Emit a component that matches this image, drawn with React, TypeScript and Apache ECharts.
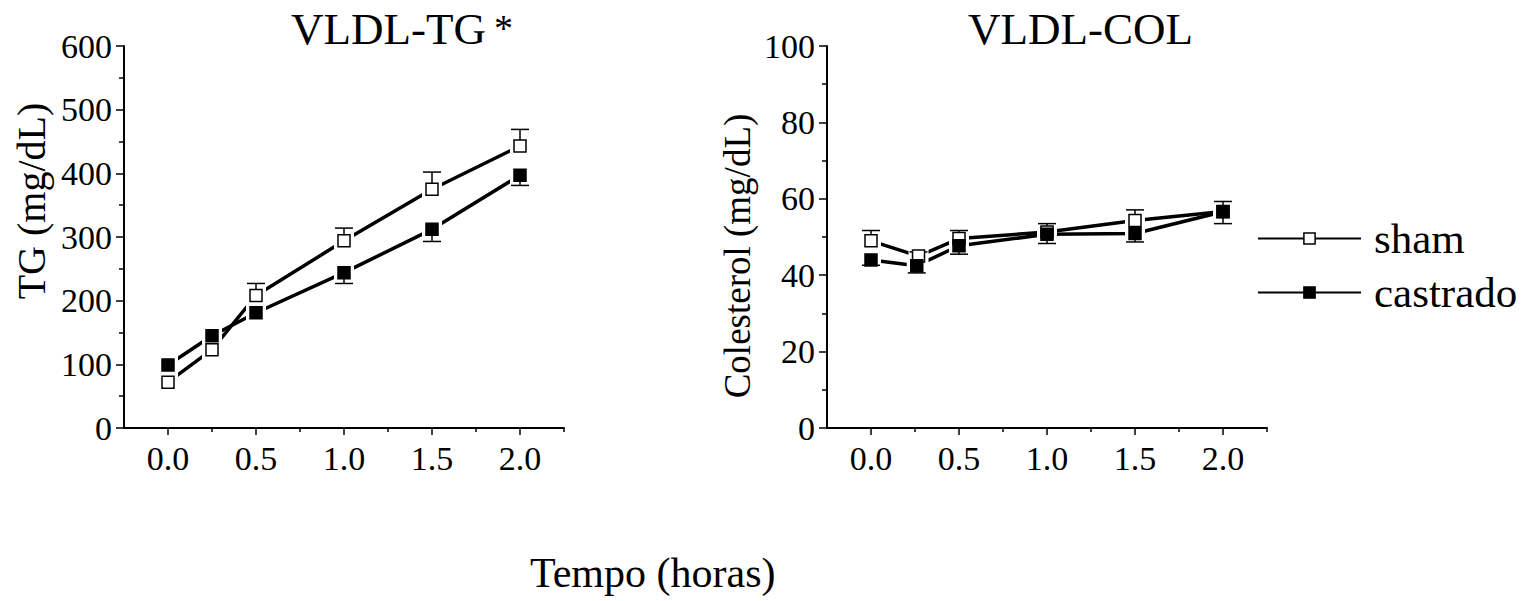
import React, { useEffect, useRef } from "react";
import * as echarts from "echarts";

// ---- data ----
const tgHours = [0, 0.25, 0.5, 1, 1.5, 2];
const tgSham = [72, 123, 208, 294, 375, 443];
const tgCastrado = [99, 145, 181, 244, 312, 397];
const tgShamErrHigh = [null, null, 227, 314, 402, 469];
const tgCastradoErrLow = [null, null, null, 227, 293, 381];

const colHoursSham = [0, 0.27, 0.5, 1, 1.5, 2];
const colHoursCastrado = [0, 0.26, 0.5, 1, 1.5, 2];
const colSham = [49, 45, 49.6, 51.3, 54.3, 56.7];
const colCastrado = [44, 42.5, 47.7, 50.7, 50.9, 56.6];
const colShamErrHigh = [51.7, 46.1, 51.7, 53.5, 57.1, 59.3];
const colCastradoErrLow = [42.6, 40.6, 45.5, 48.3, 48.7, 53.5];

const xMajorTicks = [0, 0.5, 1, 1.5, 2];
const xMinorTicks = [0.25, 0.75, 1.25, 1.75, 2.25];

const FONT = "Liberation Serif";

function pairs(xs: number[], ys: (number | null)[]) {
  return xs.map((x, i) => [x, ys[i]]);
}
function errData(xs: number[], ys: number[], es: (number | null)[]) {
  const out: number[][] = [];
  xs.forEach((x, i) => {
    if (es[i] != null) out.push([x, ys[i], es[i] as number]);
  });
  return out;
}

const errRender = (params: any, api: any) => {
  const x = api.value(0);
  const y = api.value(1);
  const e = api.value(2);
  const p0 = api.coord([x, y]);
  const p1 = api.coord([x, e]);
  const h = 9;
  return {
    type: "group",
    children: [
      { type: "line", shape: { x1: p0[0], y1: p0[1], x2: p1[0], y2: p1[1] }, style: { stroke: "#000", lineWidth: 1.5 } },
      { type: "line", shape: { x1: p1[0] - h, y1: p1[1], x2: p1[0] + h, y2: p1[1] }, style: { stroke: "#000", lineWidth: 1.5 } },
    ],
  };
};

function xAxes(gridIndex: number) {
  return [
    {
      type: "value",
      gridIndex,
      min: -0.25,
      max: 2.25,
      interval: 0.25,
      splitLine: { show: false },
      axisLine: { show: true, onZero: false, lineStyle: { color: "#000", width: 2 } },
      axisTick: { show: true, customValues: xMajorTicks, length: 7, lineStyle: { color: "#000", width: 1.5 } },
      axisLabel: {
        customValues: xMajorTicks,
        formatter: (v: number) => v.toFixed(1),
        fontFamily: FONT,
        fontSize: 34,
        color: "#000",
        margin: 13,
      },
    },
    {
      type: "value",
      gridIndex,
      position: "bottom",
      min: -0.25,
      max: 2.25,
      interval: 0.25,
      splitLine: { show: false },
      axisLine: { show: false, onZero: false },
      axisTick: { show: true, customValues: xMinorTicks, length: 4, lineStyle: { color: "#000", width: 1.5 } },
      axisLabel: { show: false },
    },
  ];
}

function yAxis(gridIndex: number, max: number, interval: number) {
  return {
    type: "value",
    gridIndex,
    min: 0,
    max,
    interval,
    splitLine: { show: false },
    axisLine: { show: true, onZero: false, lineStyle: { color: "#000", width: 2 } },
    axisTick: { show: true, length: 8, lineStyle: { color: "#000", width: 1.5 } },
    minorTick: { show: true, splitNumber: 2, length: 5, lineStyle: { color: "#000", width: 1.5 } },
    axisLabel: { fontFamily: FONT, fontSize: 34, color: "#000", margin: 12 },
  };
}

function lineSeries(name: string, xi: number, yi: number, data: any[], fill: string) {
  return {
    name,
    type: "line",
    xAxisIndex: xi,
    yAxisIndex: yi,
    data,
    z: 2,
    symbol: "rect",
    symbolSize: 12,
    showSymbol: false,
    lineStyle: { color: "#000", width: 3.5 },
    itemStyle: { color: fill, borderColor: "#000", borderWidth: 1.5, opacity: 1 },
  };
}
function haloSeries(xi: number, yi: number, data: any[]) {
  return {
    type: "scatter",
    xAxisIndex: xi,
    yAxisIndex: yi,
    data,
    z: 3,
    silent: true,
    symbol: "rect",
    symbolSize: 12,
    itemStyle: { color: "#fff", borderColor: "#fff", borderWidth: 8, opacity: 1 },
  };
}
function markerSeries(xi: number, yi: number, data: any[], fill: string) {
  return {
    type: "scatter",
    xAxisIndex: xi,
    yAxisIndex: yi,
    data,
    z: 5,
    symbol: "rect",
    symbolSize: 12,
    itemStyle: { color: fill, borderColor: "#000", borderWidth: 1.5, opacity: 1 },
  };
}
function errSeries(xi: number, yi: number, data: any[]) {
  return { type: "custom", xAxisIndex: xi, yAxisIndex: yi, renderItem: errRender, data, z: 4, silent: true };
}

export default function App() {
  const ref = useRef<HTMLDivElement>(null);
  useEffect(() => {
    if (!ref.current) return;
    const chart = echarts.init(ref.current, undefined, { renderer: "svg" });
    const tgS = pairs(tgHours, tgSham);
    const tgC = pairs(tgHours, tgCastrado);
    const colS = pairs(colHoursSham, colSham);
    const colC = pairs(colHoursCastrado, colCastrado);
    chart.setOption({
      animation: false,
      backgroundColor: "#fff",
      textStyle: { fontFamily: FONT, color: "#000" },
      grid: [
        { left: 124, top: 46, width: 440, height: 382 },
        { left: 827, top: 46, width: 440, height: 382 },
      ],
      xAxis: [...xAxes(0), ...xAxes(1)],
      yAxis: [yAxis(0, 600, 100), yAxis(1, 100, 20)],
      legend: {
        orient: "vertical",
        left: 1252,
        top: 212,
        itemWidth: 103,
        itemHeight: 14,
        itemGap: 11,
        textStyle: { fontFamily: FONT, fontSize: 43, color: "#000", lineHeight: 40, padding: [0, 0, 0, 8] },
        data: [
          { name: "sham", itemStyle: { color: "#fff", borderColor: "#000", borderWidth: 1.5, opacity: 1 } },
          { name: "castrado", itemStyle: { color: "#000", borderColor: "#000", borderWidth: 1.5, opacity: 1 } },
        ],
      },
      graphic: [
        { type: "text", left: 291, top: 6, style: { text: "VLDL-TG", fontFamily: FONT, fontSize: 45, fill: "#000" } },
        { type: "text", left: 494, top: 9, style: { text: "*", fontFamily: FONT, fontSize: 38, fill: "#000" } },
        { type: "text", left: 968, top: 6, style: { text: "VLDL-COL", fontFamily: FONT, fontSize: 45, fill: "#000" } },
        { type: "text", left: 530, top: 552, style: { text: "Tempo (horas)", fontFamily: FONT, fontSize: 42, fill: "#000" } },
        {
          type: "text",
          x: 31,
          y: 201,
          rotation: Math.PI / 2,
          style: { text: "TG (mg/dL)", fontFamily: FONT, fontSize: 40, fill: "#000", align: "center", verticalAlign: "middle" },
        },
        {
          type: "text",
          x: 737,
          y: 256,
          rotation: Math.PI / 2,
          style: { text: "Colesterol (mg/dL)", fontFamily: FONT, fontSize: 37, fill: "#000", align: "center", verticalAlign: "middle" },
        },
      ],
      series: [
        lineSeries("sham", 0, 0, tgS, "#fff"),
        lineSeries("castrado", 0, 0, tgC, "#000"),
        lineSeries("sham", 2, 1, colS, "#fff"),
        lineSeries("castrado", 2, 1, colC, "#000"),
        haloSeries(0, 0, tgS),
        haloSeries(0, 0, tgC),
        haloSeries(2, 1, colS),
        haloSeries(2, 1, colC),
        errSeries(0, 0, errData(tgHours, tgSham, tgShamErrHigh)),
        errSeries(0, 0, errData(tgHours, tgCastrado, tgCastradoErrLow)),
        errSeries(2, 1, errData(colHoursSham, colSham, colShamErrHigh)),
        errSeries(2, 1, errData(colHoursCastrado, colCastrado, colCastradoErrLow)),
        markerSeries(0, 0, tgS, "#fff"),
        markerSeries(0, 0, tgC, "#000"),
        markerSeries(2, 1, colS, "#fff"),
        markerSeries(2, 1, colC, "#000"),
      ],
    });
    return () => chart.dispose();
  }, []);
  return <div ref={ref} style={{ position: "fixed", left: 0, top: 0, width: 1528, height: 601 }} />;
}
